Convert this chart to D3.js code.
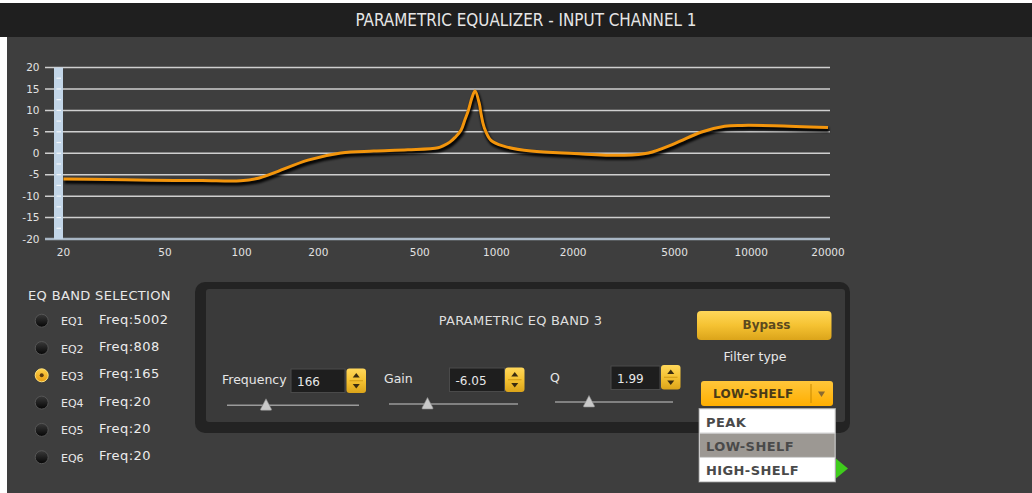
<!DOCTYPE html>
<html>
<head>
<meta charset="utf-8">
<script src="https://cdn.jsdelivr.net/npm/d3@7"></script>
<style>
  body { margin: 0; background: #fff; }
  svg { display: block; font-family: 'DejaVu Sans', sans-serif; }
</style>
</head>
<body>
<svg id="chart"></svg>
<script>
const width = 1032, height = 493;

// response curve (Hz, dB)
const freqs = [20, 30, 44, 70, 99, 115, 133, 182, 245, 330, 449, 590, 620, 656, 688, 726, 752, 776, 802, 824, 857, 870, 894, 952, 1075, 1368, 2020, 3176, 3946, 5000, 6380, 7860, 9170, 12360, 20000];
const gains = [-6.0, -6.1, -6.3, -6.35, -6.4, -5.9, -4.65, -1.6, 0.07, 0.5, 0.8, 1.3, 1.8, 2.6, 3.7, 5.35, 7.8, 10, 13, 14.5, 11.5, 9.2, 6.1, 3.0, 1.6, 0.5, -0.07, -0.47, 0.07, 2.25, 4.95, 6.3, 6.5, 6.43, 6.0];

const xTicks = [20, 50, 100, 200, 500, 1000, 2000, 5000, 10000, 20000];
const yTicks = [-20, -15, -10, -5, 0, 5, 10, 15, 20];
const yMinor = d3.range(-20, 20.1, 2.5);

const bandNames = ['EQ1', 'EQ2', 'EQ3', 'EQ4', 'EQ5', 'EQ6'];
const bandFreqs = [5002, 808, 165, 20, 20, 20];
const selectedBand = 2;

const controls = [
  { label: 'Frequency', value: '166' },
  { label: 'Gain', value: '-6.05' },
  { label: 'Q', value: '1.99' }
];
const filterTypes = ['PEAK', 'LOW-SHELF', 'HIGH-SHELF'];
const filterIndex = 1;

const svg = d3.select('#chart').attr('width', width).attr('height', height);
const defs = svg.append('defs');

const grad = (id, stops) => {
  const g = defs.append('linearGradient').attr('id', id)
    .attr('x1', 0).attr('y1', 0).attr('x2', 0).attr('y2', 1);
  stops.forEach(([o, c]) => g.append('stop').attr('offset', o).attr('stop-color', c));
};
grad('yellow', [[0, '#ffd75a'], [0.5, '#f5c232'], [1, '#dba41a']]);
grad('dropdown', [[0, '#ffc63a'], [1, '#ffae00']]);
grad('knob', [[0, '#3a3a3a'], [1, '#050505']]);
grad('knobOn', [[0, '#ffd24a'], [1, '#e79a10']]);
defs.append('filter').attr('id', 'blur').append('feGaussianBlur').attr('stdDeviation', 1.3);

// background
svg.append('rect').attr('width', width).attr('height', height).attr('fill', '#fff');
svg.append('rect').attr('x', 7).attr('y', 3).attr('width', width - 7).attr('height', height - 3).attr('fill', '#3e3e3e');
svg.append('rect').attr('x', 0).attr('y', 3).attr('width', width).attr('height', 34).attr('fill', '#1f1f1f');
svg.append('text').attr('x', 526).attr('y', 26).attr('text-anchor', 'middle')
  .attr('font-family', "'Liberation Sans Narrow', 'DejaVu Sans Condensed', sans-serif")
  .attr('font-size', 17).attr('fill', '#e6e6e6')
  .attr('textLength', 341).attr('lengthAdjust', 'spacingAndGlyphs')
  .text('PARAMETRIC EQUALIZER - INPUT CHANNEL 1');

// scales
const x = d3.scaleLog().domain([20, 20000]).range([63.5, 828]);
const y = d3.scaleLinear().domain([-20, 20]).range([239, 67.5]);

// grid
svg.append('g').selectAll('line').data(yTicks.filter(d => d > -20)).enter().append('line')
  .attr('x1', 45).attr('x2', 830).attr('y1', d => y(d)).attr('y2', d => y(d))
  .attr('stroke', '#cfcfcf').attr('stroke-width', 1.5);
svg.append('line').attr('x1', 45).attr('x2', 830).attr('y1', y(-20)).attr('y2', y(-20))
  .attr('stroke', '#a8b6c4').attr('stroke-width', 2.5);

svg.append('g').selectAll('text').data(yTicks).enter().append('text')
  .attr('x', 39.5).attr('y', d => y(d)).attr('dy', '0.36em').attr('text-anchor', 'end')
  .attr('font-size', 10.5).attr('fill', '#e2e2e2').text(d => d);

svg.append('g').selectAll('text').data(xTicks).enter().append('text')
  .attr('x', d => x(d)).attr('y', 255.5).attr('text-anchor', 'middle')
  .attr('font-size', 10.5).attr('fill', '#e2e2e2').text(d => d);

// curve
const pts = freqs.map((f, i) => [f, gains[i]]);
const line = d3.line().x(d => x(d[0])).y(d => y(d[1])).curve(d3.curveCatmullRom.alpha(0.5));
svg.append('path').attr('d', line(pts)).attr('fill', 'none')
  .attr('stroke', '#000').attr('stroke-width', 4.5).attr('opacity', 0.9)
  .attr('transform', 'translate(1,2.5)').attr('filter', 'url(#blur)');
svg.append('path').attr('d', line(pts)).attr('fill', 'none')
  .attr('stroke', '#f3950c').attr('stroke-width', 3).attr('stroke-linejoin', 'round');

// y bar
svg.append('rect').attr('x', 54).attr('y', y(20)).attr('width', 9).attr('height', y(-20) - y(20))
  .attr('fill', '#c3d6e8');
svg.append('g').selectAll('line').data(yMinor.filter(d => d > -20 && d < 20)).enter().append('line')
  .attr('x1', 56.5).attr('x2', 61).attr('y1', d => y(d)).attr('y2', d => y(d))
  .attr('stroke', '#f2f6fa').attr('stroke-width', 1.2);

// band selection
svg.append('text').attr('x', 28).attr('y', 300).attr('font-size', 13).attr('letter-spacing', 0.35)
  .attr('fill', '#e8e8e8').text('EQ BAND SELECTION');
const band = svg.append('g').selectAll('g').data(bandNames).enter().append('g')
  .attr('transform', (d, i) => `translate(0,${320.7 + i * 27.3})`);
band.append('circle').attr('cx', 41.7).attr('r', 6.5)
  .attr('fill', (d, i) => i === selectedBand ? 'url(#knobOn)' : 'url(#knob)')
  .attr('stroke', (d, i) => i === selectedBand ? '#ffe27a' : '#555').attr('stroke-width', 1);
band.filter((d, i) => i === selectedBand).append('circle').attr('cx', 41.7).attr('r', 2).attr('fill', '#5a3a10');
band.append('text').attr('x', 61).attr('y', 4.5).attr('font-size', 11).attr('fill', '#e8e8e8').text(d => d);
band.append('text').attr('x', 99).attr('y', 3).attr('font-size', 13).attr('letter-spacing', 0.45)
  .attr('fill', '#ececec').text((d, i) => `Freq:${bandFreqs[i]}`);

// band panel
svg.append('rect').attr('x', 195).attr('y', 282).attr('width', 655).attr('height', 151).attr('rx', 10)
  .attr('fill', '#232323');
svg.append('rect').attr('x', 206).attr('y', 289).attr('width', 639).attr('height', 133).attr('rx', 3)
  .attr('fill', '#3a3a3a');
svg.append('text').attr('x', 520.5).attr('y', 325).attr('text-anchor', 'middle')
  .attr('font-size', 13).attr('letter-spacing', 0.2).attr('fill', '#dedede').text('PARAMETRIC EQ BAND 3');

const ctrlLayout = [
  { lx: 222, ly: 384, bx: 291, by: 369, bw: 54, sx: 346.5, sy: 368.5, slX1: 227, slX2: 359, slY: 405.3, th: 266 },
  { lx: 384, ly: 383, bx: 449.5, by: 368, bw: 55, sx: 505, sy: 367.5, slX1: 389, slX2: 518, slY: 404, th: 427.5 },
  { lx: 550, ly: 382, bx: 611, by: 366, bw: 49, sx: 661, sy: 365, slX1: 555, slX2: 673, slY: 402, th: 589 }
];
controls.forEach((c, i) => {
  const L = ctrlLayout[i];
  const g = svg.append('g');
  g.append('text').attr('x', L.lx).attr('y', L.ly).attr('font-size', 12.5).attr('fill', '#e6e6e6').text(c.label);
  g.append('rect').attr('x', L.bx).attr('y', L.by).attr('width', L.bw).attr('height', 23.5)
    .attr('fill', '#1e1e1e').attr('stroke', '#4a4a4a').attr('stroke-width', 1);
  g.append('text').attr('x', L.bx + 6).attr('y', L.by + 16.5).attr('font-size', 12).attr('fill', '#e8e8e8').text(c.value);
  g.append('rect').attr('x', L.sx).attr('y', L.sy).attr('width', 19.5).attr('height', 24.5).attr('rx', 3)
    .attr('fill', 'url(#yellow)');
  g.append('line').attr('x1', L.sx + 3).attr('x2', L.sx + 16.5).attr('y1', L.sy + 12.25).attr('y2', L.sy + 12.25)
    .attr('stroke', '#c89010').attr('stroke-width', 0.8);
  const cx = L.sx + 9.75;
  g.append('path').attr('d', `M${cx - 3.5},${L.sy + 9} L${cx + 3.5},${L.sy + 9} L${cx},${L.sy + 4.5} Z`).attr('fill', '#3a2c10');
  g.append('path').attr('d', `M${cx - 3.5},${L.sy + 15.5} L${cx + 3.5},${L.sy + 15.5} L${cx},${L.sy + 20} Z`).attr('fill', '#3a2c10');
  // slider
  g.append('line').attr('x1', L.slX1).attr('x2', L.slX2).attr('y1', L.slY).attr('y2', L.slY)
    .attr('stroke', '#9a9a9a').attr('stroke-width', 1.6);
  g.append('path').attr('d', `M${L.th},${L.slY - 6.5} L${L.th + 5.5},${L.slY + 4} Q${L.th + 6},${L.slY + 5} ${L.th + 4.5},${L.slY + 5} L${L.th - 4.5},${L.slY + 5} Q${L.th - 6},${L.slY + 5} ${L.th - 5.5},${L.slY + 4} Z`)
    .attr('fill', '#c9c9c9').attr('stroke', '#8a8a8a').attr('stroke-width', 0.6);
});

// bypass button
svg.append('rect').attr('x', 697).attr('y', 311).attr('width', 134.5).attr('height', 29).attr('rx', 4)
  .attr('fill', 'url(#yellow)');
svg.append('text').attr('x', 766.5).attr('y', 328.5).attr('text-anchor', 'middle')
  .attr('font-size', 12).attr('font-weight', 'bold').attr('fill', '#5c4a1e').text('Bypass');
svg.append('text').attr('x', 755).attr('y', 361).attr('text-anchor', 'middle')
  .attr('font-size', 12.5).attr('fill', '#e8e8e8').text('Filter type');

// dropdown
svg.append('rect').attr('x', 701).attr('y', 381).attr('width', 132).attr('height', 25).attr('rx', 3)
  .attr('fill', 'url(#dropdown)');
svg.append('text').attr('x', 713).attr('y', 397.5).attr('font-size', 12).attr('font-weight', 'bold')
  .attr('letter-spacing', 0.3).attr('fill', '#4a3a18').text(filterTypes[filterIndex]);
svg.append('line').attr('x1', 811).attr('x2', 811).attr('y1', 384).attr('y2', 403)
  .attr('stroke', '#c98a00').attr('stroke-width', 1);
svg.append('path').attr('d', 'M818,391.5 L825,391.5 L821.5,397 Z').attr('fill', '#8a6a30');

// green arrow behind the list
svg.append('path').attr('d', 'M834,457 L848,468.5 L834,480 Z').attr('fill', '#3fcc1c');

const list = svg.append('g');
list.append('rect').attr('x', 699).attr('y', 408.5).attr('width', 136.5).attr('height', 73.5)
  .attr('fill', '#fff').attr('stroke', '#8a8a8a').attr('stroke-width', 1);
list.selectAll('rect.item').data(filterTypes).enter().append('rect').attr('class', 'item')
  .attr('x', 699.5).attr('y', (d, i) => 409 + i * 24.3).attr('width', 135.5).attr('height', 24)
  .attr('fill', (d, i) => i === filterIndex ? '#9c9893' : '#fff')
  .attr('stroke', '#d0d0d0').attr('stroke-width', 0.8);
list.selectAll('text').data(filterTypes).enter().append('text')
  .attr('x', 706).attr('y', (d, i) => 426.5 + i * 24.2)
  .attr('font-size', 13).attr('font-weight', 'bold').attr('letter-spacing', 0.4)
  .attr('fill', '#4a4a4a').text(d => d);
</script>
</body>
</html>
